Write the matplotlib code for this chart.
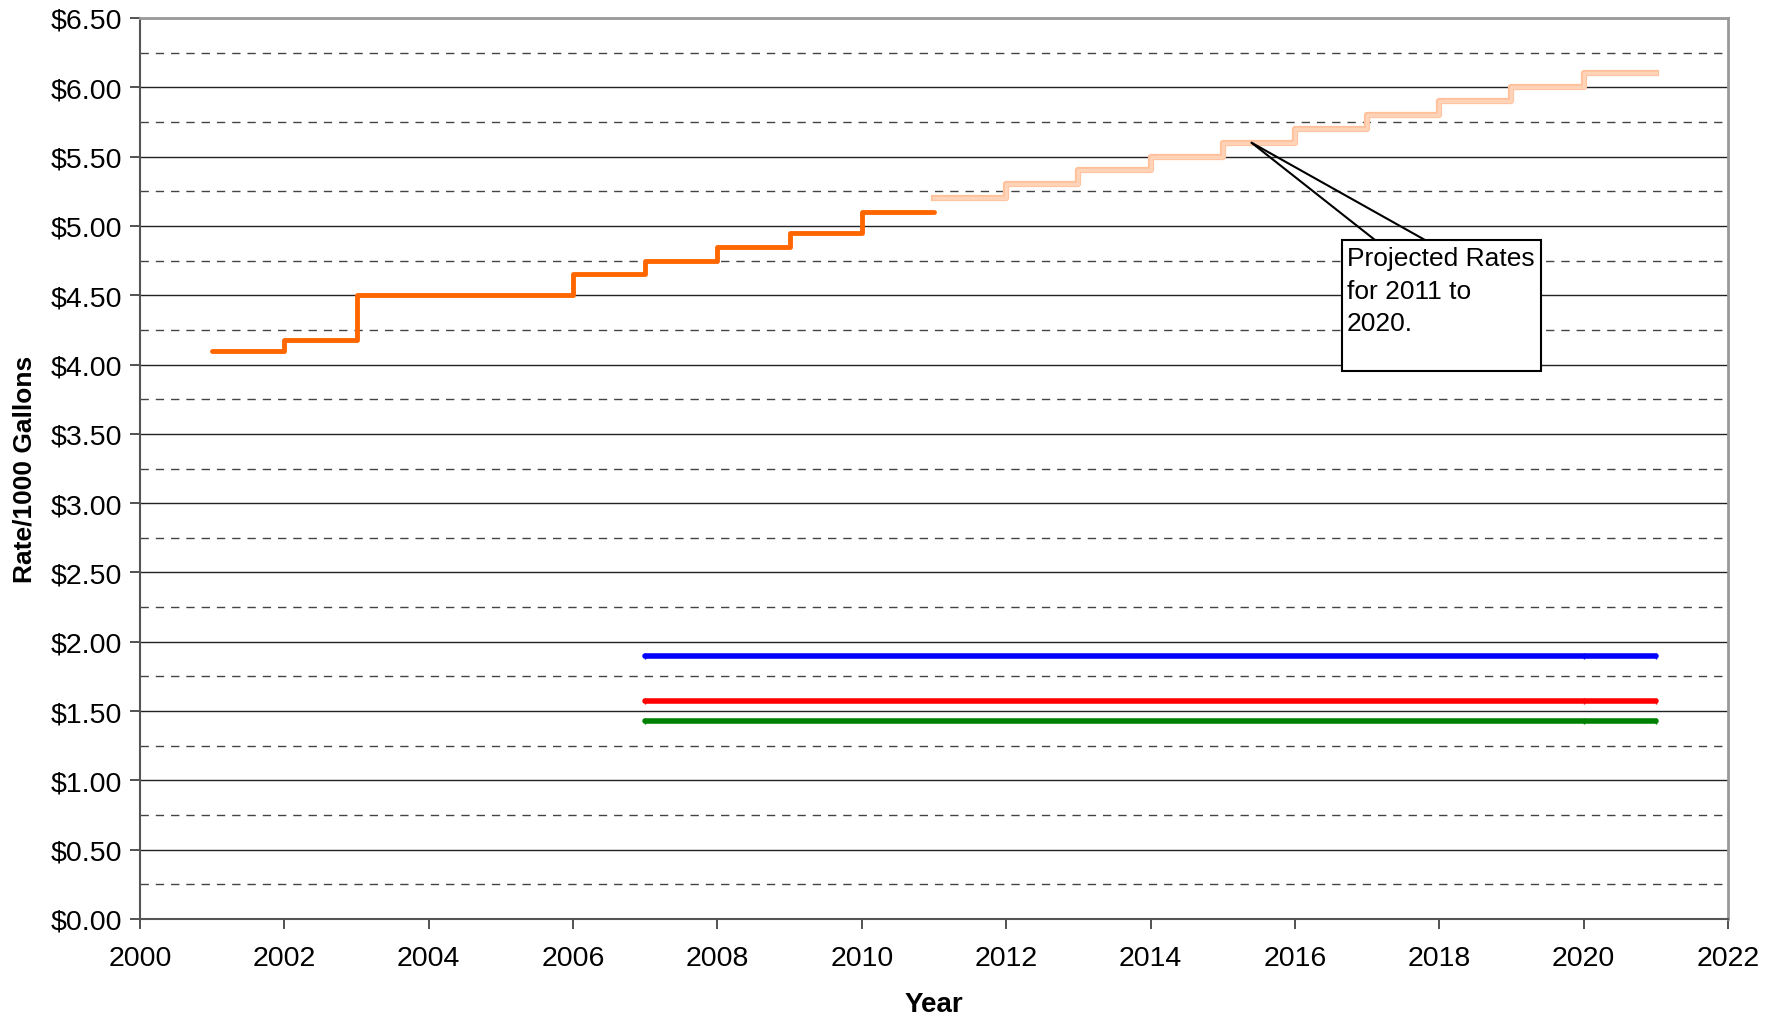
import matplotlib
matplotlib.use('Agg')
from matplotlib import pyplot as plt
from matplotlib.ticker import MultipleLocator, FuncFormatter

plt.rcParams['font.family'] = ['Liberation Sans', 'DejaVu Sans']

# historical rate steps (start year -> rate)
hist_years = [2001, 2002, 2003, 2006, 2007, 2008, 2009, 2010, 2011]
hist_rates = [4.10, 4.18, 4.50, 4.65, 4.75, 4.85, 4.95, 5.10, 5.10]

# projected rates 2011 to 2020
proj_years = [2011, 2012, 2013, 2014, 2015, 2016, 2017, 2018, 2019, 2020, 2021]
proj_rates = [5.20, 5.30, 5.40, 5.50, 5.60, 5.70, 5.80, 5.90, 6.00, 6.10, 6.10]

flat_years = [2007, 2020, 2021]
blue_rates = [1.90, 1.90, 1.90]
red_rates = [1.57, 1.57, 1.57]
green_rates = [1.43, 1.43, 1.43]

fig = plt.figure(figsize=(17.8, 10.2), dpi=100)
ax = fig.add_axes([140/1780, 1 - 920/1020, (1728-140)/1780, (920-19)/1020])

ax.step(proj_years, proj_rates, where='post', color='#ffc09a', lw=4.5, zorder=3)
ax.step(proj_years, proj_rates, where='post', color='#ffd3b8', lw=2.5, zorder=3)
ax.step(hist_years, hist_rates, where='post', color='#ff6600', lw=3.5,
        solid_capstyle='round', zorder=4)
ax.plot(flat_years, blue_rates, color='#0000ff', lw=4, solid_capstyle='round', marker='|', ms=4, mew=1, zorder=4)
ax.plot(flat_years, red_rates, color='#ff0000', lw=4, solid_capstyle='round', marker='|', ms=4, mew=1, zorder=4)
ax.plot(flat_years, green_rates, color='#008000', lw=4, solid_capstyle='round', marker='|', ms=4, mew=1, zorder=4)

ax.set_xlim(2000, 2022)
ax.set_ylim(0, 6.5)
ax.xaxis.set_major_locator(MultipleLocator(2))
ax.yaxis.set_major_locator(MultipleLocator(0.5))
ax.yaxis.set_minor_locator(MultipleLocator(0.25))
ax.yaxis.set_major_formatter(FuncFormatter(lambda v, p: '${:.2f}'.format(v)))
ax.grid(which='major', axis='y', color='#222222', lw=1.0)
ax.grid(which='minor', axis='y', color='#444444', lw=1.0, ls=(0, (6, 5)))
ax.tick_params(axis='both', which='major', labelsize=20.5, length=7, width=1.2, direction='out', colors='#333333', labelcolor='black')
ax.tick_params(axis='x', which='major', pad=12)
ax.tick_params(axis='y', which='major', pad=6)
ax.tick_params(axis='y', which='minor', length=0)
ax.set_axisbelow(True)

for side in ['top', 'right']:
    ax.spines[side].set_color('#999999')
    ax.spines[side].set_linewidth(2)
for side in ['left', 'bottom']:
    ax.spines[side].set_color('#555555')
    ax.spines[side].set_linewidth(1.5)

ax.set_xlabel('Year', fontsize=20, fontweight='bold', labelpad=14)
ax.set_ylabel('Rate/1000 Gallons', fontsize=19, fontweight='bold', labelpad=10)

# callout box
tip = (2015.4, 5.60)
box_x0, box_x1 = 1342/1780, 1541/1780
box_y0, box_y1 = 1 - 372/1020, 1 - 241/1020
rect = plt.Rectangle((box_x0, box_y0), box_x1 - box_x0, box_y1 - box_y0,
                     transform=fig.transFigure, facecolor='white', edgecolor='black',
                     lw=1.5, zorder=6)
fig.patches.append(rect)
for bx in [1375/1780, 1425/1780]:
    ax.annotate('', xy=tip, xycoords='data', xytext=(bx, box_y1), textcoords='figure fraction',
                arrowprops=dict(arrowstyle='-', color='black', lw=1.5, shrinkA=0, shrinkB=0),
                zorder=7)
fig.text(box_x0 + 5/1780, box_y1 - 6/1020, 'Projected Rates\nfor 2011 to\n2020.',
         ha='left', va='top', fontsize=19, linespacing=1.45, zorder=8)

fig.savefig('out.png', dpi=100)
